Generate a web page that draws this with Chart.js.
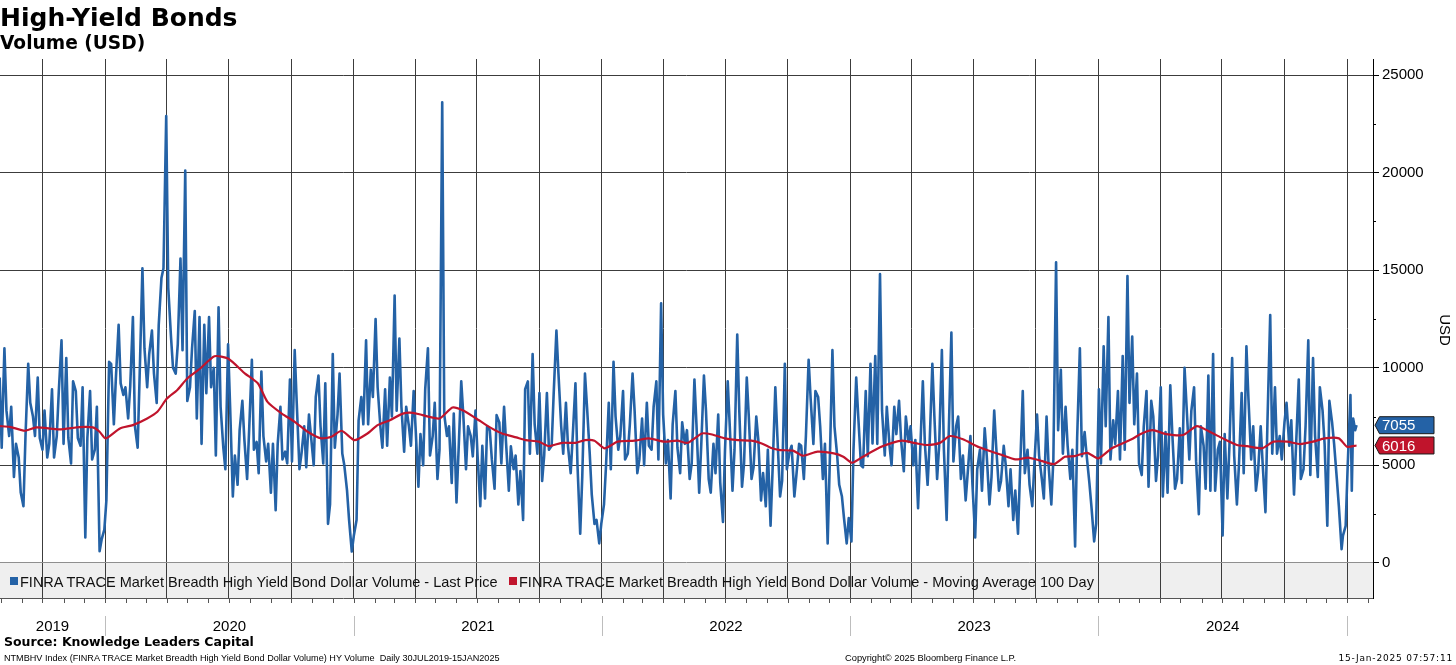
<!DOCTYPE html>
<html>
<head>
<meta charset="utf-8">
<title>High-Yield Bonds</title>
<script src="https://cdn.jsdelivr.net/npm/chart.js@4.4.1/dist/chart.umd.min.js"></script>
<style>
  html, body { margin: 0; padding: 0; background: #fff; }
  #page { position: relative; width: 1456px; height: 665px; overflow: hidden; }
  #chart { position: absolute; left: 0; top: 0; }
  .txt { position: absolute; white-space: pre; color: #000; }
  #title { left: 0; top: 5px; font: bold 25px/25px "DejaVu Sans"; }
  #subtitle { left: 0; top: 34px; font: bold 18.6px/18.6px "DejaVu Sans"; }
  .leg { top: 575px; font: 14.5px/14.5px "Liberation Sans"; color: #111; }
  .mk { position: absolute; top: 577px; width: 8px; height: 8px; }
  #source { left: 4px; top: 636px; font: bold 12.5px/12.5px "DejaVu Sans"; }
  .foot { top: 654px; font: 9.1px/9.1px "Liberation Sans"; }
  #stamp { right: 3px; top: 654px; font: 9px/9px "DejaVu Sans"; letter-spacing: 0.8px; }
</style>
</head>
<body>
<div id="page">
  <canvas id="chart" width="1456" height="665"></canvas>
  <div class="txt" id="title">High-Yield Bonds</div>
  <div class="txt" id="subtitle">Volume (USD)</div>

  <div class="mk" style="left:10px;background:#2462a6"></div>
  <div class="txt leg" style="left:20px">FINRA TRACE Market Breadth High Yield Bond Dollar Volume - Last Price</div>
  <div class="mk" style="left:509px;background:#c0142c"></div>
  <div class="txt leg" style="left:519px">FINRA TRACE Market Breadth High Yield Bond Dollar Volume - Moving Average 100 Day</div>

  <div class="txt" id="source">Source: Knowledge Leaders Capital</div>
  <div class="txt foot" style="left:4px">NTMBHV Index (FINRA TRACE Market Breadth High Yield Bond Dollar Volume) HY Volume  Daily 30JUL2019-15JAN2025</div>
  <div class="txt foot" style="left:845px;font-size:9.3px">Copyright© 2025 Bloomberg Finance L.P.</div>
  <div class="txt" id="stamp">15-Jan-2025 07:57:11</div>
</div>

<script>
// readings of the daily series, twice a week, first one on Tue 30 Jul 2019
const weekStart = '2019-07-30';
const volTue = [
  // 2019 - 2020
  9500, 11000, 6500, 4400, 5400, 2900, 10200, 7500, 9500, 5800,
  5400, 8900, 6500, 11400, 10500, 5100, 8800, 6000, 1300, 8800,
  5800, 600, 1700, 10300, 7100, 12200, 8600, 7400, 12600, 5900,
  15100, 9000, 11900, 8200, 14600, 22900, 11600, 9700, 15600, 20100,
  9000, 12900,
  12600, 12200, 12600, 10000, 13100, 5900, 11200, 3400, 4000, 8300,
  4300, 10400, 6200, 9800, 5200, 3600, 2700, 8000, 5700, 9400,
  10900, 4800,
  7000, 7600, 5000, 9600, 5100, 2000, 10700, 7600, 5600, 3700,
  580, 2200, 8500, 11400, 9900, 12500, 7000, 8900, 9500, 13700,
  // 2021
  11500, 5700, 7000, 8800, 3900, 5000, 11000, 6500, 4300, 23600,
  6500, 4100, 3100, 9300, 4800, 6500, 7800, 2900, 3300, 6800,
  3800, 7200, 8000, 3700, 4800, 3000, 2200, 9300, 10700, 5600,
  4200, 8700, 6000, 11900, 7000, 8200, 4600, 9200, 1500, 9700,
  // 2022
  5600, 2000, 1000, 3000, 8200, 10300, 5800, 8800, 5600, 9700,
  4600, 7400, 8200, 5800, 9300, 13300, 5100, 3300, 8800, 4600,
  6100, 4300, 9400, 3600, 9600, 4300, 6100, 7600, 2100, 9300,
  3700, 11700, 3900, 9500, 4300, 7500, 3200, 2900, 1900, 9000,
  3400, 10200,
  // 2023
  5700, 3400, 6100, 4300, 10400, 6100, 8500, 4300, 1000, 10900,
  5500, 3400, 1000, 1100, 9500, 5000, 8800, 10200, 10600, 14800,
  5500, 6000, 8000, 8300, 4700, 6200, 5000, 2800, 9300, 4000,
  10200, 4300, 10900, 2200, 11800, 7000, 4300, 3200, 6500, 1300,
  // 2024
  5800, 6900, 3000, 7800, 3700, 6000, 2900, 2200, 1500, 8800,
  5800, 2900, 7600, 4300, 7500, 3000, 15400, 9900, 8000, 4300,
  840, 11000, 6700, 4100, 1100, 8900, 11100, 12600, 7300, 8800,
  10600, 14700, 11600, 9700, 4500, 8800, 8300, 4200, 9000, 6700,
  9100, 3800, 6900, 10000, 5300, 9000, 2500, 6000, 9600, 10700,
  5800, 1400, 3300, 10500, 3000, 8700, 11100, 5300, 3700, 7000,
  2600, 12700, 9000, 6500, 7200, 6000, 3500, 9400, 4800, 11400,
  10500, 4400, 7800, 1900, 7200, 4300
];
// the Friday reading of each of those weeks
const volFri = [
  5900, 7800, 8000, 6100, 3600, 6500, 8200, 6500, 6400, 7800,
  6100, 5400, 8800, 6100, 6400, 9300, 6400, 9000, 6400, 5300,
  8000, 1200, 3200, 10200, 9500, 9200, 9000, 9000, 7000, 9700,
  11000, 10700, 9700, 12200, 15100, 14100, 10000, 11200, 10900, 8300,
  11000, 7400,
  6100, 8700, 9000, 5500, 8000, 4800, 8000, 5500, 6800, 6300,
  6800, 5800, 4600, 6500, 6100, 6100, 6100, 5300, 5100, 5200,
  8200, 5600, 4900, 6500, 8500, 7000, 9200, 3000, 5900, 9700,
  5000, 2200, 1400, 7300, 7100, 7100, 8500, 9000, 5900, 6000,
  7500,
  7800, 8000, 8000, 6000, 6800, 6600, 8900, 5500, 8200, 5800,
  7600, 7000, 7650, 5700, 7600, 7000, 5460, 5500, 6000, 7000,
  5300, 7570, 5100, 6100, 5970, 5500, 4700, 8900, 5600, 7100,
  8700, 5500, 5800, 8700, 9700, 5600, 6000, 6500, 5000, 4400,
  8000,
  3500, 2200, 2000, 5000, 4800, 7500, 6500, 5300, 7100, 7800,
  5300, 5000, 6000, 8000, 5300, 7600, 6300, 7100, 5900, 7200,
  6800, 5100, 7100, 6000, 7800, 3600, 4600, 4100, 5800, 7000,
  5800, 7800, 5100, 7500, 4900, 6300, 4600, 5800, 4800, 6500,
  4200,
  4800, 6000, 4500, 6000, 6500, 8400, 8800, 7000, 6100, 5000,
  7000, 4000, 2300, 2300, 5800, 7500, 4900, 5460, 6120, 6100,
  7800, 8000, 5000, 6600, 6300, 7500, 7000, 6300, 5600, 6100,
  6140, 7500, 6000, 5800, 6500, 5200, 7500, 5500, 4600, 4000,
  4800,
  3700, 5500, 4400, 5900, 4200, 5000, 4800, 3700, 4700, 4600,
  4000, 5000, 5500, 3300, 5000, 5300, 6800, 5600, 6000, 5800,
  6400, 5460, 5500, 2900, 2000, 5100, 7000, 5300, 6100, 5300,
  5800, 8200, 7100, 5100, 7000, 3900, 7500, 5500, 3400, 3600,
  6600, 4300, 4100, 8000, 7800, 5200, 7000, 3800, 3700, 3700,
  6200, 6600, 6000, 5500, 5000, 4600, 8400, 7000, 4600, 5000,
  7300, 5600, 5600, 5300, 8200, 7300, 6000, 4300, 7000, 4500,
  6500, 9000, 6100, 8300, 6100
];
// last few sessions
const tailDates = ['2024-12-20', '2024-12-24', '2024-12-26', '2024-12-30', '2025-01-02',
                   '2025-01-06', '2025-01-08', '2025-01-10', '2025-01-13', '2025-01-15'];
const tailVolume = [2900, 700, 1400, 1900, 5000, 8600, 3700, 7400, 6800, 7055];

// 100 day moving average
const maDates = [
  '2019-07-30', '2019-08-14', '2019-09-05', '2019-09-22', '2019-10-26', '2019-11-25', '2019-12-14', '2019-12-24',
  '2020-01-02', '2020-01-23', '2020-02-11', '2020-03-03', '2020-03-18', '2020-04-01', '2020-04-16', '2020-05-01',
  '2020-05-20', '2020-06-10', '2020-06-30', '2020-07-25', '2020-08-13', '2020-08-27', '2020-09-17', '2020-10-06',
  '2020-10-25', '2020-11-14', '2020-11-29', '2020-12-14', '2021-01-02', '2021-01-21', '2021-02-05', '2021-02-23',
  '2021-03-14', '2021-03-29', '2021-04-12', '2021-05-07', '2021-05-26', '2021-06-10', '2021-06-30', '2021-07-19',
  '2021-08-07', '2021-08-28', '2021-09-11', '2021-09-30', '2021-10-15', '2021-11-03', '2021-11-23', '2021-12-07',
  '2021-12-21', '2022-01-05', '2022-01-24', '2022-02-18', '2022-03-11', '2022-04-03', '2022-04-22', '2022-05-07',
  '2022-05-28', '2022-06-12', '2022-07-01', '2022-07-20', '2022-08-09', '2022-08-24', '2022-09-08', '2022-09-20',
  '2022-10-09', '2022-10-24', '2022-11-14', '2022-12-08', '2022-12-22', '2023-01-04', '2023-01-20', '2023-02-14',
  '2023-03-04', '2023-03-19', '2023-04-09', '2023-04-24', '2023-05-13', '2023-05-28', '2023-06-16', '2023-07-10',
  '2023-08-13', '2023-09-01', '2023-09-20', '2023-10-09', '2023-10-28', '2023-11-13', '2023-11-27', '2023-12-16',
  '2024-01-01', '2024-01-21', '2024-02-19', '2024-03-05', '2024-03-21', '2024-04-10', '2024-05-05', '2024-05-25',
  '2024-06-13', '2024-07-02', '2024-07-23', '2024-08-07', '2024-08-29', '2024-09-15', '2024-10-05', '2024-10-24',
  '2024-11-12', '2024-11-29', '2024-12-20', '2025-01-01', '2025-01-15'
];
const maValues = [
  7010, 6970, 6770, 6940, 6840, 6960, 6940, 6720,
  6380, 6890, 7060, 7400, 7740, 8420, 8850, 9450,
  9960, 10590, 10470, 9700, 9190, 8250, 7650, 7230,
  6720, 6380, 6460, 6770, 6290, 6630, 7060, 7310,
  7650, 7690, 7570, 7400, 7960, 7820, 7400, 6970,
  6630, 6430, 6290, 6210, 5980, 6150, 6150, 6290,
  6260, 5870, 6210, 6260, 6380, 6210, 6260, 6150,
  6630, 6580, 6380, 6290, 6260, 6120, 5870, 5780,
  5750, 5490, 5700, 5610, 5440, 5130, 5440, 5920,
  6150, 6260, 6120, 6040, 6150, 6500, 6330, 5920,
  5520, 5300, 5390, 5230, 5060, 5440, 5470, 5640,
  5350, 5870, 6330, 6630, 6800, 6600, 6550, 7010,
  6720, 6380, 6040, 5980, 5870, 6210, 6210, 6090,
  6210, 6380, 6380, 5950, 6016
];

const yTicks = [0, 5000, 10000, 15000, 20000, 25000];
const yMinorTicks = [2500, 7500, 12500, 17500, 22500];
const yearLabels = ['2019', '2020', '2021', '2022', '2023', '2024'];
const lastPrice = 7055;
const lastAverage = 6016;

const BLUE = '#2462a6';
const RED = '#c0142c';
const DAY = 864e5;

function dayNum(s) {
  const p = s.split('-');
  return Date.UTC(+p[0], +p[1] - 1, +p[2]) / DAY;
}

const startDay = dayNum(weekStart);
const volumePoints = [];
volTue.forEach((v, i) => {
  volumePoints.push({ x: startDay + 7 * i, y: v });
  if (i < volFri.length) volumePoints.push({ x: startDay + 7 * i + 3, y: volFri[i] });
});
tailDates.forEach((d, i) => volumePoints.push({ x: dayNum(d), y: tailVolume[i] }));
const maPoints = maDates.map((d, i) => ({ x: dayNum(d), y: maValues[i] }));

const xMin = dayNum('2020-01-01') - 154.5;
const xMax = xMin + 2019.7;

// quarter grid and month ticks
const quarterDays = [], monthDays = [], jan1Days = [];
for (let yr = 2019; yr <= 2025; yr++) {
  for (let m = 0; m < 12; m++) {
    const d = Date.UTC(yr, m, 1) / DAY;
    if (d <= xMin || d >= xMax) continue;
    monthDays.push(d);
    if (m % 3 === 0) quarterDays.push(d);
    if (m === 0) jan1Days.push(d);
  }
}

const backgroundPlugin = {
  id: 'bg',
  beforeDraw(chart) {
    const { ctx, chartArea } = chart;
    const y0 = chart.scales.y.getPixelForValue(0);
    ctx.save();
    ctx.fillStyle = '#fff';
    ctx.fillRect(0, 0, chart.width, chart.height);
    ctx.fillStyle = '#efefef';
    ctx.fillRect(chartArea.left, y0, chartArea.right - chartArea.left, chartArea.bottom - y0);
    ctx.restore();
  }
};

const decorPlugin = {
  id: 'decor',
  afterDraw(chart) {
    const { ctx, chartArea } = chart;
    const xs = chart.scales.x, ys = chart.scales.y;
    ctx.save();

    // minor ticks on the right axis
    ctx.strokeStyle = '#000';
    ctx.lineWidth = 1;
    yMinorTicks.forEach(v => {
      const y = Math.round(ys.getPixelForValue(v)) + 0.5;
      ctx.beginPath();
      ctx.moveTo(chartArea.right, y);
      ctx.lineTo(chartArea.right + 3, y);
      ctx.stroke();
    });

    // month ticks under the date axis
    ctx.strokeStyle = '#555';
    monthDays.forEach(d => {
      const x = Math.round(xs.getPixelForValue(d)) + 0.5;
      ctx.beginPath();
      ctx.moveTo(x, chartArea.bottom);
      ctx.lineTo(x, chartArea.bottom + 5);
      ctx.stroke();
    });

    // year separators and labels
    ctx.strokeStyle = '#bdbdbd';
    jan1Days.forEach(d => {
      const x = Math.round(xs.getPixelForValue(d)) + 0.5;
      ctx.beginPath();
      ctx.moveTo(x, 616);
      ctx.lineTo(x, 636);
      ctx.stroke();
    });
    ctx.fillStyle = '#000';
    ctx.font = '15px "Liberation Sans"';
    ctx.textAlign = 'center';
    ctx.textBaseline = 'alphabetic';
    yearLabels.forEach(label => {
      const a = Math.max(xs.getPixelForValue(dayNum(label + '-01-01')), chartArea.left);
      const b = Math.min(xs.getPixelForValue(dayNum((+label + 1) + '-01-01')), chartArea.right);
      ctx.fillText(label, (a + b) / 2, 631);
    });

    // axis title
    ctx.save();
    ctx.translate(1444, 330);
    ctx.rotate(Math.PI / 2);
    ctx.textBaseline = 'middle';
    ctx.fillText('USD', 0, 0);
    ctx.restore();

    // last value tags
    function tag(value, color) {
      const y = ys.getPixelForValue(value);
      const x0 = chartArea.right + 2;
      ctx.beginPath();
      ctx.moveTo(x0, y);
      ctx.lineTo(x0 + 4.5, y - 8.5);
      ctx.lineTo(1434, y - 8.5);
      ctx.lineTo(1434, y + 8.5);
      ctx.lineTo(x0 + 4.5, y + 8.5);
      ctx.closePath();
      ctx.fillStyle = color;
      ctx.fill();
      ctx.strokeStyle = '#1b1b1b';
      ctx.lineWidth = 1;
      ctx.stroke();
      ctx.fillStyle = '#fff';
      ctx.font = '15px "Liberation Sans"';
      ctx.textAlign = 'left';
      ctx.textBaseline = 'middle';
      ctx.fillText(String(value), x0 + 7, y + 1);
    }
    tag(lastPrice, BLUE);
    tag(lastAverage, RED);

    ctx.restore();
  }
};

const chart = new Chart(document.getElementById('chart'), {
  type: 'line',
  data: {
    datasets: [
      {
        label: 'FINRA TRACE Market Breadth High Yield Bond Dollar Volume - Last Price',
        data: volumePoints,
        borderColor: BLUE,
        borderWidth: 2.6,
        borderJoinStyle: 'round',
        pointRadius: 0,
        tension: 0,
        order: 1
      },
      {
        label: 'FINRA TRACE Market Breadth High Yield Bond Dollar Volume - Moving Average 100 Day',
        data: maPoints,
        borderColor: RED,
        borderWidth: 2.2,
        borderJoinStyle: 'round',
        pointRadius: 0,
        tension: 0.2,
        order: 0
      }
    ]
  },
  options: {
    responsive: false,
    animation: false,
    layout: { padding: { top: 59, bottom: 67, left: 0, right: 0 } },
    plugins: {
      legend: { display: false },
      tooltip: { enabled: false },
      title: { display: false }
    },
    scales: {
      x: {
        type: 'linear',
        min: xMin,
        max: xMax,
        afterBuildTicks: s => { s.ticks = quarterDays.map(v => ({ value: v })); },
        afterFit: s => { s.height = 0; },
        ticks: { display: false },
        grid: { color: '#3c3c3c', lineWidth: 1, drawTicks: false },
        border: { display: true, color: '#555', width: 1 }
      },
      y: {
        position: 'right',
        min: -1800,
        max: 25820,
        afterBuildTicks: s => { s.ticks = yTicks.map(v => ({ value: v })); },
        afterFit: s => { s.width = 83; },
        ticks: {
          color: '#000',
          font: { family: 'Liberation Sans', size: 15 },
          padding: 3,
          callback: v => String(v)
        },
        grid: {
          color: c => (c.tick && c.tick.value === 0) ? '#8f8f8f' : '#3c3c3c',
          tickColor: '#000',
          tickLength: 6,
          drawTicks: true
        },
        border: { display: true, color: '#000', width: 1 }
      }
    }
  },
  plugins: [backgroundPlugin, decorPlugin]
});
</script>
</body>
</html>
